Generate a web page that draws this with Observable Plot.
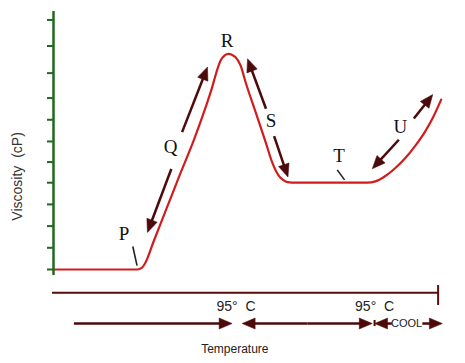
<!DOCTYPE html>
<html><head><meta charset="utf-8">
<script src="https://cdn.jsdelivr.net/npm/d3@7"></script>
<script src="https://cdn.jsdelivr.net/npm/@observablehq/plot@0.6"></script>
<style>body{margin:0;background:#fff} svg{display:block}</style>
</head><body><div id="chart"></div>
<script>
// Viscosity curve (x: heating/cooling progress 0-100, y: viscosity, arbitrary units)
const curve = [[0,0],[21.8,0],[22.9,0.07],[23.9,0.32],[26.0,1.29],[29.5,2.87],[33.0,4.45],[36.4,5.94],[39.5,7.47],[41.2,8.39],[42.3,9.08],[43.4,9.63],[44.4,9.86],[45.5,9.94],[46.5,9.88],[47.3,9.78],[48.6,9.40],[49.9,8.63],[52.5,7.25],[55.1,5.87],[56.8,4.94],[58.5,4.33],[59.7,4.12],[60.8,4.03],[62.9,4.0],[81.0,4.0],[81.5,4.0],[83.6,4.06],[86.2,4.31],[88.8,4.68],[91.4,5.14],[94.0,5.71],[96.6,6.38],[98.7,7.05],[100.7,7.83]];
const yTicks = [0, 1, 2, 3, 4, 4.95, 5.9, 6.9, 7.9, 9.05, 10.3, 11.5];
const yAxisSpan = [-0.28, 11.89];
const letters = ["P","Q","R","S","T","U"];
const letterX = [18.3, 30.4, 45.1, 56.5, 74.2, 90.1];
const letterY = [1.65, 5.65, 10.55, 6.87, 5.25, 6.58];
const curveArrows = [
  {x1:33.4, y1:6.33, x2:40.0, y2:9.33},
  {x1:30.6, y1:4.63, x2:24.4, y2:1.71},
  {x1:55.2, y1:7.41, x2:50.4, y2:9.71},
  {x1:57.3, y1:6.15, x2:60.9, y2:4.26},
  {x1:93.6, y1:6.96, x2:98.5, y2:8.06},
  {x1:89.7, y1:5.98, x2:82.8, y2:4.64}
];
const leaders = [
  {x1:20.6, y1:1.06, x2:21.7, y2:0.18},
  {x1:73.7, y1:4.59, x2:75.6, y2:4.13}
];
// temperature axis below the chart
const tempAxisY = -1.07;
const tempAxisX = [-0.26, 100];
const tempEndTick = {x:99.9, y1:-0.74, y2:-1.66};
const tempRowY = -2.49;
const tempArrows = [
  {x1:5.3, x2:46.4},
  {x1:66, x2:49.0},
  {x1:66, x2:82.8},
  {x1:87.9, x2:83.4},
  {x1:95.8, x2:101.0}
];
const coolBar = {x:83.4, y1:-2.35, y2:-2.63};
const tempLabels = ["95°\u00a0\u00a0C", "95°\u00a0\u00a0C"];
const tempLabelX = [47.4, 83.4];
const tempLabelY = -1.71;
const coolLabel = {text:"COOL", x:91.7};
const xTitle = {text:"Temperature", x:47.1, y:-3.66};
const yTitle = {text:"Viscosity\u00a0\u00a0(cP)", x:-9.35, y:4.29};

const xDomain = [0, 100], xRange = [53, 438];
const yDomain = [0, 12], yRange = [269, 8.6];
const sx = d3.scaleLinear(xDomain, xRange), sy = d3.scaleLinear(yDomain, yRange);

const GREEN = "#22691f", RED = "#d11c1c", DARK = "#4d0a0a", AXIS = "#5a0c0c";
const head = {draw(ctx) { ctx.moveTo(0, 0); ctx.lineTo(5.5, 13); ctx.lineTo(-5.5, 13); ctx.closePath(); }};
const angle = d => Math.atan2(sx(d.x2) - sx(d.x1), -(sy(d.y2) - sy(d.y1))) * 180 / Math.PI;
function shaftEnd(d, cut) {
  const px1 = sx(d.x1), py1 = sy(d.y1), px2 = sx(d.x2), py2 = sy(d.y2);
  const L = Math.hypot(px2 - px1, py2 - py1), t = (L - cut) / L;
  return [sx.invert(px1 + (px2 - px1) * t), sy.invert(py1 + (py2 - py1) * t)];
}
const rowArrows = tempArrows.map(d => ({x1:d.x1, x2:d.x2, y1:tempRowY, y2:tempRowY}));
const allArrows = curveArrows.concat(rowArrows);

const chart = Plot.plot({
  width: 465, height: 363, margin: 0,
  x: {domain: xDomain, range: xRange, axis: null},
  y: {domain: yDomain, range: yRange, axis: null},
  style: {background: "white", overflow: "visible"},
  marks: [
    Plot.line(curve, {x: d => d[0], y: d => d[1], curve: "monotone-x", stroke: RED, strokeWidth: 2.2}),
    Plot.ruleX([0], {y1: yAxisSpan[0], y2: yAxisSpan[1], stroke: GREEN, strokeWidth: 2.5}),
    Plot.ruleY(yTicks, {y: d => d, x1: -1.56, x2: 0, stroke: GREEN, strokeWidth: 2}),
    Plot.link(allArrows, {x1: "x1", y1: "y1", x2: d => shaftEnd(d, 9)[0], y2: d => shaftEnd(d, 9)[1], stroke: DARK, strokeWidth: 2.5}),
    Plot.dot(allArrows, {x: "x2", y: "y2", symbol: head, rotate: angle, fill: DARK, stroke: DARK, strokeWidth: 0.5, r: 6}),
    Plot.link(leaders, {x1: "x1", y1: "y1", x2: "x2", y2: "y2", stroke: "#222", strokeWidth: 1.6}),
    Plot.ruleY([tempAxisY], {x1: tempAxisX[0], x2: tempAxisX[1], stroke: AXIS, strokeWidth: 2}),
    Plot.ruleX([tempEndTick], {x: "x", y1: "y1", y2: "y2", stroke: AXIS, strokeWidth: 2}),
    Plot.ruleX([coolBar], {x: "x", y1: "y1", y2: "y2", stroke: DARK, strokeWidth: 2}),
    Plot.text(letters, {x: (d, i) => letterX[i], y: (d, i) => letterY[i], text: d => d, fontFamily: "Liberation Serif", fontSize: 19, fill: "#111"}),
    Plot.text(tempLabels, {x: (d, i) => tempLabelX[i], y: tempLabelY, text: d => d, fontFamily: "Liberation Sans", fontSize: 14, fill: "#222"}),
    Plot.text([coolLabel], {x: "x", y: tempRowY, text: "text", fontFamily: "Liberation Sans", fontSize: 11, fill: "#222"}),
    Plot.text([xTitle], {x: "x", y: "y", text: "text", fontFamily: "Liberation Sans", fontSize: 12, fill: "#222"}),
    Plot.text([yTitle], {x: "x", y: "y", text: "text", rotate: -90, fontFamily: "Liberation Sans", fontSize: 14, fill: "#333"})
  ]
});
document.getElementById("chart").appendChild(chart);
</script>
</body></html>
